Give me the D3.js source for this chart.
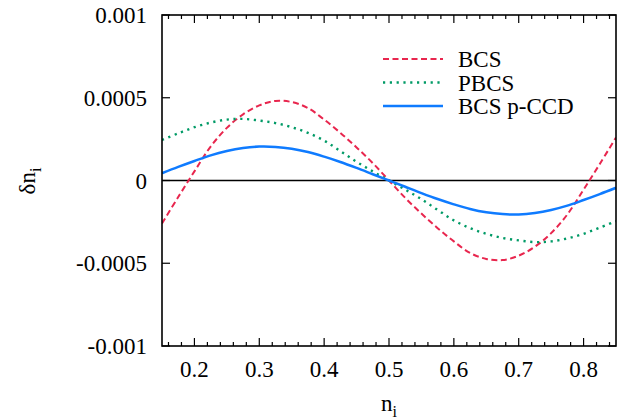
<!DOCTYPE html>
<html><head><meta charset="utf-8">
<script src="https://cdn.jsdelivr.net/npm/d3@7"></script>
<style>
body{margin:0;background:#fff;}
svg text{font-family:"Liberation Serif","Times New Roman",Tinos,Times,"DejaVu Serif","Noto Serif",serif;}
</style></head>
<body><svg id="c" width="619" height="420"></svg>
<script>
const xs = [0.15,0.175,0.2,0.225,0.25,0.275,0.3,0.325,0.35,0.375,0.4,0.425,0.45,0.475,0.5,
            0.525,0.55,0.575,0.6,0.625,0.65,0.675,0.7,0.725,0.75,0.775,0.8,0.825,0.85];
const bcs = [-0.00026,-0.0001,0.000055,0.000205,0.000318,0.0004,0.000454,0.000481,0.000474,0.000438,0.000368,0.000288,0.0002,0.000105,0,
             -0.000105,-0.0002,-0.000288,-0.000368,-0.000438,-0.000474,-0.000481,-0.000454,-0.0004,-0.000318,-0.000205,-0.000055,0.0001,0.00026];
const pbcs = [0.000245,0.000285,0.000322,0.00035,0.000368,0.000372,0.000362,0.000347,0.000322,0.000288,0.000241,0.000178,0.000113,0.000055,0,
              -0.000055,-0.000113,-0.000178,-0.000241,-0.000288,-0.000322,-0.000347,-0.000362,-0.000372,-0.000368,-0.00035,-0.000322,-0.000285,-0.000245];
const pccd = [0.000044,0.000082,0.000118,0.000152,0.000178,0.000196,0.000205,0.000203,0.000192,0.000172,0.000144,0.000112,0.000076,0.000038,0,
              -0.000038,-0.000076,-0.000112,-0.000144,-0.000172,-0.000192,-0.000203,-0.000205,-0.000196,-0.000178,-0.000152,-0.000118,-0.000082,-0.000044];
const seriesNames = ["BCS","PBCS","BCS p-CCD"];
const xTicks = [0.2,0.3,0.4,0.5,0.6,0.7,0.8];
const yTicks = [-0.001,-0.0005,0,0.0005,0.001];
const yTickLabels = ["-0.001","-0.0005","0","0.0005","0.001"];

const svg = d3.select("#c");
const L=162,R=616,T=15,B=346;
const x = d3.scaleLinear().domain([0.15,0.85]).range([L,R]);
const y = d3.scaleLinear().domain([-0.001,0.001]).range([B,T]);
const fs = 23;

const styles = [
  {color:"#e8264e", dash:"6,3.5", w:2},
  {color:"#009a66", dash:"2.2,4.6", w:2.4},
  {color:"#0f7bff", dash:null, w:2.5}
];
const data = [bcs,pbcs,pccd];

svg.append("clipPath").attr("id","cl").append("rect")
  .attr("x",L).attr("y",T).attr("width",R-L).attr("height",B-T);

svg.append("line").attr("x1",L).attr("x2",R).attr("y1",y(0)).attr("y2",y(0))
  .attr("stroke","#000").attr("stroke-width",1.3);

const line = d3.line().curve(d3.curveCatmullRom.alpha(0.5));
data.forEach((s,i)=>{
  const st=styles[i];
  svg.append("path").attr("clip-path","url(#cl)")
    .attr("d", line(xs.map((v,j)=>[x(v),y(s[j])])))
    .attr("fill","none").attr("stroke",st.color).attr("stroke-width",st.w)
    .attr("stroke-dasharray",st.dash);
});

const minor = d3.range(0.16,0.85,0.02).filter(v=>!xTicks.some(t=>Math.abs(t-v)<1e-6));
const g = svg.append("g").attr("stroke","#000").attr("stroke-width",1.2);
xTicks.forEach(v=>{
  g.append("line").attr("x1",x(v)).attr("x2",x(v)).attr("y1",B).attr("y2",B-8);
  g.append("line").attr("x1",x(v)).attr("x2",x(v)).attr("y1",T).attr("y2",T+8);
});
minor.forEach(v=>{
  g.append("line").attr("x1",x(v)).attr("x2",x(v)).attr("y1",B).attr("y2",B-4);
  g.append("line").attr("x1",x(v)).attr("x2",x(v)).attr("y1",T).attr("y2",T+4);
});
yTicks.forEach(v=>{
  g.append("line").attr("x1",L).attr("x2",L+8).attr("y1",y(v)).attr("y2",y(v));
  g.append("line").attr("x1",R).attr("x2",R-8).attr("y1",y(v)).attr("y2",y(v));
});
svg.append("rect").attr("x",L).attr("y",T).attr("width",R-L).attr("height",B-T)
  .attr("fill","none").attr("stroke","#000").attr("stroke-width",1.6);

xTicks.forEach(v=>{
  svg.append("text").attr("x",x(v)).attr("y",377).attr("text-anchor","middle")
    .attr("font-size",fs).text(d3.format(".1f")(v));
});
yTicks.forEach((v,i)=>{
  svg.append("text").attr("x",147).attr("y",y(v)+8).attr("text-anchor","end")
    .attr("font-size",fs).text(yTickLabels[i]);
});

const xl = svg.append("text").attr("x",389).attr("y",411).attr("text-anchor","middle").attr("font-size",fs);
xl.append("tspan").text("n");
xl.append("tspan").attr("font-size",16).attr("dy",6).text("i");
const yl = svg.append("text").attr("transform","translate(35,181) rotate(-90)").attr("text-anchor","middle").attr("font-size",fs);
yl.append("tspan").text("δn");
yl.append("tspan").attr("font-size",16).attr("dy",6).text("i");

seriesNames.forEach((n,i)=>{
  const st=styles[i], yy=59+i*23.5;
  svg.append("line").attr("x1",383).attr("x2",443).attr("y1",yy).attr("y2",yy)
    .attr("stroke",st.color).attr("stroke-width",st.w).attr("stroke-dasharray",st.dash);
  svg.append("text").attr("x",458).attr("y",yy+8).attr("font-size",fs).text(n);
});
</script></body></html>
